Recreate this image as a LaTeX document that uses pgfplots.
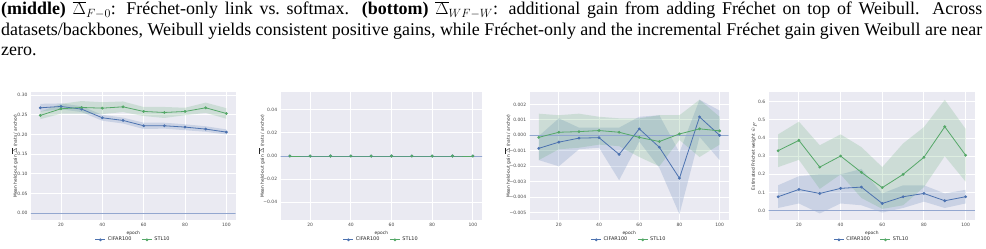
\documentclass[border=0pt]{standalone}
\usepackage{pgfplots}
\pgfplotsset{compat=1.18}
\usepackage{pgfplotstable}
\usepackage{fontspec}
\setmainfont{Liberation Serif}
\newfontfamily\plotfont{DejaVu Sans}
\definecolor{sbblue}{HTML}{4C72B0}
\definecolor{sbgreen}{HTML}{55A868}
\definecolor{sbbg}{HTML}{EAEAF2}
\definecolor{sbtext}{HTML}{262626}
\definecolor{zeroline}{HTML}{93A7CF}

% mean values: x  CIFAR100  STL10
\pgfplotstableread{
x   bm     gm
10  0.2679 0.2485
20  0.2713 0.2654
30  0.2645 0.2687
40  0.2425 0.2670
50  0.2358 0.2704
60  0.2223 0.2586
70  0.2223 0.2560
80  0.2189 0.2586
90  0.2138 0.2679
100 0.2062 0.2535
}\pone
\pgfplotstableread{
x   bm  gm
10  0.0 0.0
20  0.0 0.0
30  0.0 0.0
40  0.0 0.0
50  0.0 0.0
60  0.0 0.0
70  0.0 0.0
80  0.0 0.0
90  0.0 0.0
100 0.0 0.0
}\ptwo
\pgfplotstableread{
x   bm        gm
10  -0.00084  -0.00013
20  -0.00044  0.00020
30  -0.00018  0.00024
40  -0.00015  0.00031
50  -0.00123  0.00020
60  0.00042   -0.00013
70  -0.00077  -0.00040
80  -0.00277  0.00009
90  0.00119   0.00042
100 0.00000   0.00029
}\pthree
\pgfplotstableread{
x   bm     gm
10  0.077  0.330
20  0.117  0.387
30  0.095  0.240
40  0.123  0.301
50  0.130  0.211
60  0.040  0.127
70  0.077  0.200
80  0.095  0.294
90  0.055  0.462
100 0.077  0.305
}\pfour

\pgfplotsset{
  sb/.style={
    scale only axis,
    height=128bp,
    anchor=south west,
    axis background/.style={fill=sbbg},
    axis line style={draw=none},
    grid=major,
    major grid style={white, line width=0.9bp},
    tick style={draw=none},
    scaled ticks=false,
    xmin=5.5, xmax=104.5,
    xtick={20,40,60,80,100},
    xticklabels={20,40,60,80,100},
    ticklabel style={font=\plotfont\fontsize{4.5}{5}\selectfont, text=sbtext!85},
    xlabel={epoch},
    label style={font=\plotfont\fontsize{4.4}{5}\selectfont, text=sbtext},
    xlabel style={yshift=2.5bp},
    legend style={at={(0.5,-0.155)}, anchor=center, draw=none, fill=none,
      font=\plotfont\fontsize{5}{6}\selectfont, text=sbtext,
      /tikz/every even column/.append style={column sep=8bp}},
    legend columns=2,
    legend cell align=left,
    legend image code/.code={\draw[mark repeat=2,mark phase=2,##1] plot coordinates {(0bp,0bp) (5bp,0bp) (10bp,0bp)};},
  },
  blline/.style={sbblue, line width=0.8bp, mark=*, mark size=1.0bp, mark options={solid}},
  glline/.style={sbgreen, line width=0.8bp, mark=*, mark size=1.0bp, mark options={solid}},
  bband/.style={fill=sbblue, fill opacity=0.2, draw=none, forget plot},
  gband/.style={fill=sbgreen, fill opacity=0.2, draw=none, forget plot},
}
\newcommand{\zeroline}{\addplot[zeroline, line width=1bp, forget plot] coordinates {(0,0) (110,0)};}

\begin{document}
\begin{tikzpicture}
\path[use as bounding box] (0,0) rectangle (986bp,-249bp);

\node[anchor=north west, inner sep=0pt, text width=981bp, align=justify,
      font=\fontsize{18}{20.5}\selectfont] at (1bp,-0.5bp) {\strut\textbf{(middle)} $\overline{\Delta}_{F-0}$: Fréchet-only link vs.\ softmax. \textbf{(bottom)} $\overline{\Delta}_{WF-W}$: additional gain from adding Fréchet on top of Weibull. Across\linebreak
datasets/backbones, Weibull yields consistent positive gains, while Fréchet-only and the incremental Fréchet gain given Weibull are near\linebreak
zero.};

% panel 1
\begin{axis}[sb, at={(31bp,-220bp)}, width=204.7bp,
  ymin=-0.017, ymax=0.308,
  ytick={0,0.05,0.10,0.15,0.20,0.25,0.30},
  yticklabels={0.00,0.05,0.10,0.15,0.20,0.25,0.30},
  ylabel={Mean held-out gain $\overline{\Delta}$ (nats / anchor)},
  ylabel style={at={(axis description cs:0,0.5)}, anchor=center, yshift=16.3bp},
]
\addplot[bband] coordinates {(10,0.278) (20,0.279) (30,0.272) (40,0.250) (50,0.243) (60,0.230) (70,0.230) (80,0.226) (90,0.221) (100,0.213)
  (100,0.200) (90,0.207) (80,0.211) (70,0.215) (60,0.214) (50,0.228) (40,0.235) (30,0.257) (20,0.264) (10,0.258)} -- cycle;
\addplot[gband] coordinates {(10,0.258) (20,0.278) (30,0.285) (40,0.282) (50,0.284) (60,0.270) (70,0.270) (80,0.268) (90,0.281) (100,0.267)
  (100,0.240) (90,0.255) (80,0.249) (70,0.242) (60,0.247) (50,0.257) (40,0.252) (30,0.253) (20,0.253) (10,0.239)} -- cycle;
\zeroline
\addplot[blline] table[x=x, y=bm] {\pone};
\addplot[glline] table[x=x, y=gm] {\pone};
\legend{CIFAR100, STL10}
\end{axis}

% panel 2
\begin{axis}[sb, at={(280.7bp,-220bp)}, width=201.3bp,
  ymin=-0.0554, ymax=0.0554,
  ytick={-0.04,-0.02,0,0.02,0.04},
  yticklabels={−0.04,−0.02,0.00,0.02,0.04},
  ylabel={Mean held-out gain $\overline{\Delta}$ (nats / anchor)},
  ylabel style={at={(axis description cs:0,0.5)}, anchor=center, yshift=19bp},
]
\zeroline
\addplot[blline] table[x=x, y=bm] {\ptwo};
\addplot[glline] table[x=x, y=gm] {\ptwo};
\legend{CIFAR100, STL10}
\end{axis}

% panel 3
\begin{axis}[sb, at={(529.7bp,-220bp)}, width=199bp,
  ymin=-0.00547, ymax=0.0028,
  ytick={-0.005,-0.004,-0.003,-0.002,-0.001,0,0.001,0.002},
  yticklabels={−0.005,−0.004,−0.003,−0.002,−0.001,0.000,0.001,0.002},
  ylabel={Mean held-out gain $\overline{\Delta}$ (nats / anchor)},
  ylabel style={at={(axis description cs:0,0.5)}, anchor=center, yshift=22bp},
]
\addplot[bband] coordinates {(10,-0.00005) (20,0.0011) (30,0.0005) (40,0.0005) (50,0.0005) (60,0.0012) (70,0.0013) (80,-0.0011) (90,0.0023) (100,0.0016)
  (100,-0.0016) (90,-0.0001) (80,-0.0051) (70,-0.0021) (60,-0.0004) (50,-0.0029) (40,-0.0008) (30,-0.0009) (20,-0.0020) (10,-0.0016)} -- cycle;
\addplot[gband] coordinates {(10,0.0014) (20,0.0013) (30,0.0014) (40,0.0012) (50,0.0011) (60,0.0011) (70,0.0013) (80,0.0013) (90,0.0023) (100,0.0012)
  (100,-0.0006) (90,-0.0014) (80,-0.0003) (70,-0.0020) (60,-0.0014) (50,-0.0007) (40,-0.0006) (30,-0.0008) (20,-0.0009) (10,-0.0016)} -- cycle;
\zeroline
\addplot[blline] table[x=x, y=bm] {\pthree};
\addplot[glline] table[x=x, y=gm] {\pthree};
\legend{CIFAR100, STL10}
\end{axis}

% panel 4
\begin{axis}[sb, at={(768.7bp,-220bp)}, width=206.3bp,
  ymin=-0.051, ymax=0.653,
  ytick={0,0.1,0.2,0.3,0.4,0.5,0.6},
  yticklabels={0.0,0.1,0.2,0.3,0.4,0.5,0.6},
  ylabel={Estimated Fréchet weight $\hat{w}_F$},
  ylabel style={at={(axis description cs:0,0.5)}, anchor=center, yshift=14.7bp},
]
\addplot[bband] coordinates {(10,0.140) (20,0.190) (30,0.200) (40,0.200) (50,0.230) (60,0.095) (70,0.140) (80,0.140) (90,0.095) (100,0.115)
  (100,0.040) (90,0.015) (80,0.050) (70,0.015) (60,-0.010) (50,0.030) (40,0.040) (30,-0.015) (20,0.040) (10,0.015)} -- cycle;
\addplot[gband] coordinates {(10,0.420) (20,0.490) (30,0.360) (40,0.420) (50,0.350) (60,0.240) (70,0.370) (80,0.460) (90,0.610) (100,0.450)
  (100,0.160) (90,0.300) (80,0.130) (70,0.030) (60,0.010) (50,0.070) (40,0.200) (30,0.120) (20,0.280) (10,0.240)} -- cycle;
\zeroline
\addplot[blline] table[x=x, y=bm] {\pfour};
\addplot[glline] table[x=x, y=gm] {\pfour};
\legend{CIFAR100, STL10}
\end{axis}
\end{tikzpicture}
\end{document}
